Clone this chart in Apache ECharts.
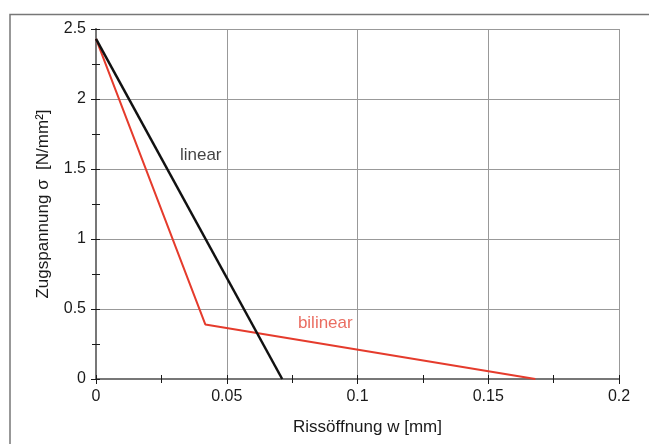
<!DOCTYPE html>
<html><head><meta charset="utf-8">
<script src="https://cdn.jsdelivr.net/npm/echarts@6/dist/echarts.min.js"></script>
<style>html,body{margin:0;padding:0;background:#fff}#c{width:649px;height:444px}</style>
</head><body><div id="c"></div>
<script>
// Data
const linearX = [0, 0.0712];
const linearY = [2.43, 0];
const bilinearX = [0, 0.0418, 0.168];
const bilinearY = [2.43, 0.39, 0];
const xTicks = [0, 0.05, 0.1, 0.15, 0.2];
const yTicks = [0, 0.5, 1, 1.5, 2, 2.5];
const labelTexts = ['linear', 'bilinear'];
const labelX = [0.0321, 0.0772];
const labelY = [1.6, 0.40];

const FONT = 'Liberation Sans, Arial, sans-serif';
const chart = echarts.init(document.getElementById('c'));
const pairs = (xs, ys) => xs.map((x, i) => [x, ys[i]]);

const baseX = {type: 'value', min: xTicks[0], max: xTicks[xTicks.length-1], interval: 0.05};
const baseY = {type: 'value', min: yTicks[0], max: yTicks[yTicks.length-1], interval: 0.5};
const TC = '#1a1a1a';
const gridBox = {left: 96, top: 29, right: 30, bottom: 65, containLabel: false};

chart.setOption({
  animation: false,
  grid: [Object.assign({}, gridBox), Object.assign({}, gridBox)],
  graphic: [
    {type: 'polyline', shape: {points: [[10, 444], [10, 14.5], [649, 14.5]]}, style: {stroke: '#777', lineWidth: 1.5, fill: null}}
  ],
  xAxis: [
    Object.assign({}, baseX, {
      gridIndex: 0, position: 'bottom',
      name: 'Rissöffnung w [mm]', nameLocation: 'middle', nameGap: 40,
      nameTextStyle: {fontFamily: FONT, fontSize: 17, color: TC, padding: [0, 0, 0, 20]},
      axisLine: {show: true, lineStyle: {color: TC, width: 1.5}},
      axisTick: {show: true, inside: false, length: 5, lineStyle: {color: TC, width: 1}},
      minorTick: {show: true, splitNumber: 2, length: 4, lineStyle: {color: TC, width: 1}},
      axisLabel: {fontFamily: FONT, fontSize: 16, color: TC, margin: 10, formatter: v => String(+v.toFixed(3))},
      splitLine: {show: true, lineStyle: {color: '#999', width: 1}}
    }),
    Object.assign({}, baseX, {
      gridIndex: 0, position: 'top',
      axisLine: {show: true, lineStyle: {color: '#777', width: 2}},
      axisLabel: {show: false}, axisTick: {show: false}, splitLine: {show: false}
    }),
    Object.assign({}, baseX, {
      gridIndex: 1, position: 'bottom', offset: -4,
      axisLine: {show: false}, axisLabel: {show: false}, splitLine: {show: false},
      axisTick: {show: true, inside: false, length: 4, lineStyle: {color: TC, width: 1}},
      minorTick: {show: true, splitNumber: 2, length: 4, lineStyle: {color: TC, width: 1}}
    })
  ],
  yAxis: [
    Object.assign({}, baseY, {
      gridIndex: 0, position: 'left',
      name: 'Zugspannung σ  [N/mm²]', nameLocation: 'middle', nameGap: 44,
      nameTextStyle: {fontFamily: FONT, fontSize: 17, color: TC},
      axisLine: {show: true, lineStyle: {color: TC, width: 1.5}},
      axisTick: {show: true, inside: false, length: 5, lineStyle: {color: TC, width: 1}},
      minorTick: {show: true, splitNumber: 2, length: 4, lineStyle: {color: TC, width: 1}},
      axisLabel: {fontFamily: FONT, fontSize: 16, color: TC, margin: 10},
      splitLine: {show: true, lineStyle: {color: '#999', width: 1}}
    }),
    Object.assign({}, baseY, {
      gridIndex: 0, position: 'right',
      axisLine: {show: true, lineStyle: {color: '#777', width: 2}},
      axisLabel: {show: false}, axisTick: {show: false}, splitLine: {show: false}
    }),
    Object.assign({}, baseY, {
      gridIndex: 1, position: 'left', offset: -4,
      axisLine: {show: false}, axisLabel: {show: false}, splitLine: {show: false},
      axisTick: {show: true, inside: false, length: 4, lineStyle: {color: TC, width: 1}},
      minorTick: {show: true, splitNumber: 2, length: 4, lineStyle: {color: TC, width: 1}}
    })
  ],
  series: [
    {type: 'line', name: 'bilinear', xAxisIndex: 0, yAxisIndex: 0, data: pairs(bilinearX, bilinearY), showSymbol: false, symbol: 'none',
     lineStyle: {color: '#e53b2c', width: 2}, z: 3},
    {type: 'line', name: 'linear', xAxisIndex: 0, yAxisIndex: 0, data: pairs(linearX, linearY), showSymbol: false, symbol: 'none',
     lineStyle: {color: '#111', width: 2.5}, z: 4},
    {type: 'scatter', xAxisIndex: 0, yAxisIndex: 0, symbolSize: 0, silent: true, z: 5,
     data: labelTexts.map((t, i) => ({value: [labelX[i], labelY[i]], name: t,
       label: {show: true, position: 'right', distance: 0, formatter: t,
               fontFamily: FONT, fontSize: 17, color: i === 0 ? '#111' : '#e5483a'}}))},
    {type: 'scatter', xAxisIndex: 2, yAxisIndex: 2, symbolSize: 0, silent: true,
     data: [[xTicks[0], yTicks[0]]]}
  ]
});
</script></body></html>
